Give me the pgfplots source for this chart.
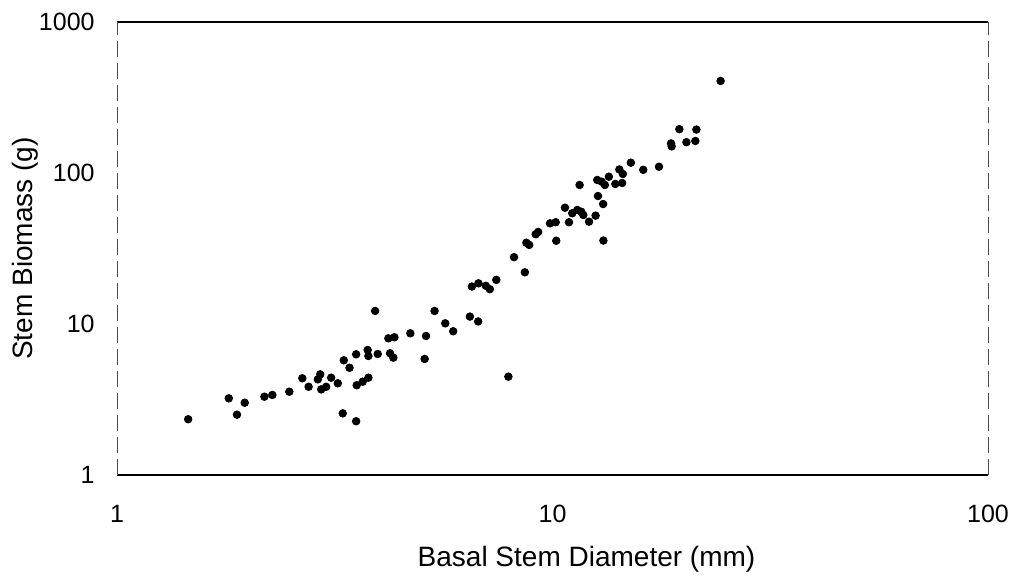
\documentclass[border=0pt]{standalone}
\usepackage{fontspec}
\setmainfont{Liberation Sans}
\usepackage{pgfplots}
\pgfplotsset{compat=1.18}
\begin{document}
\begin{tikzpicture}
\useasboundingbox (-58.5pt,-52pt) rectangle (450.5pt,237.5pt);
\begin{axis}[
  at={(0,0)}, anchor=south west,
  scale only axis,
  width=435.5pt, height=226.5pt,
  xmode=log, ymode=log,
  xmin=1, xmax=100, ymin=1, ymax=1000,
  xtick={1,10,100}, xticklabels={1,10,100},
  ytick={1,10,100,1000}, yticklabels={1,10,100,1000},
  tick style={draw=none},
  minor tick num=0,
  separate axis lines,
  x axis line style={line width=1pt, black},
  y axis line style={line width=0.4pt, black!70, dash pattern=on 8pt off 3pt},
  ticklabel style={font=\fontsize{12.5}{15}\selectfont},
  xticklabel style={anchor=north, inner sep=0pt, yshift=-15pt},
  yticklabel style={anchor=east, inner sep=0pt, xshift=-11pt},
  xlabel={Basal Stem Diameter (mm)},
  ylabel={Stem Biomass (g)},
  label style={font=\fontsize{14}{16}\selectfont},
  xlabel style={at={(axis description cs:0.5,0)}, anchor=center, inner sep=0pt, yshift=-42pt, xshift=17pt},
  ylabel style={at={(axis description cs:0,0.5)}, anchor=center, inner sep=0pt},
  every axis y label/.append style={yshift=46pt},
  clip=false,
]
\addplot[only marks, mark=*, mark size=1.9pt, black] coordinates {
(1.457,2.34) (1.806,3.22) (1.886,2.51) (1.965,3.01) (2.18,3.30) (2.274,3.39)
(2.487,3.56) (2.664,4.37) (2.754,3.84) (2.892,4.30) (2.929,4.64) (2.944,3.69)
(3.022,3.84) (3.103,4.41) (3.214,4.05) (3.299,2.56) (3.317,5.75) (3.419,5.13)
(3.541,6.30) (3.541,2.27) (3.552,3.93) (3.666,4.15) (3.778,4.41) (3.764,6.73)
(3.778,6.14) (3.969,6.33) (3.915,12.2) (4.199,8.04) (4.335,8.17) (4.236,6.40)
(4.311,5.98) (4.716,8.68) (5.124,8.33) (5.087,5.87) (5.360,12.2) (5.672,10.1)
(5.916,8.95) (6.461,11.2) (6.751,10.4) (7.92,4.48) (6.53,17.7) (6.761,18.6)
(7.03,17.9) (7.18,17.0) (7.43,19.6) (8.16,27.7) (8.64,22.0) (8.71,34.5)
(8.84,33.4) (9.15,39.3) (9.27,40.7) (9.87,46.4) (10.17,47.2) (10.2,35.6)
(10.68,58.9) (10.91,47.2) (11.10,54.1) (11.40,56.9) (11.64,55.4) (11.77,52.7)
(12.13,47.6) (12.56,52.2) (12.72,70.4) (13.07,62.3) (13.09,35.7) (11.54,83.3)
(12.67,89.9) (12.97,87.6) (13.47,94.5) (13.19,83.3) (13.94,84.6) (14.45,85.9)
(14.24,105.5) (14.51,98.5) (15.13,117) (16.16,105) (17.56,110) (18.72,157)
(18.78,150) (19.56,195) (20.30,160) (21.28,163) (21.40,194) (24.32,407)
};
\end{axis}
\end{tikzpicture}
\end{document}
